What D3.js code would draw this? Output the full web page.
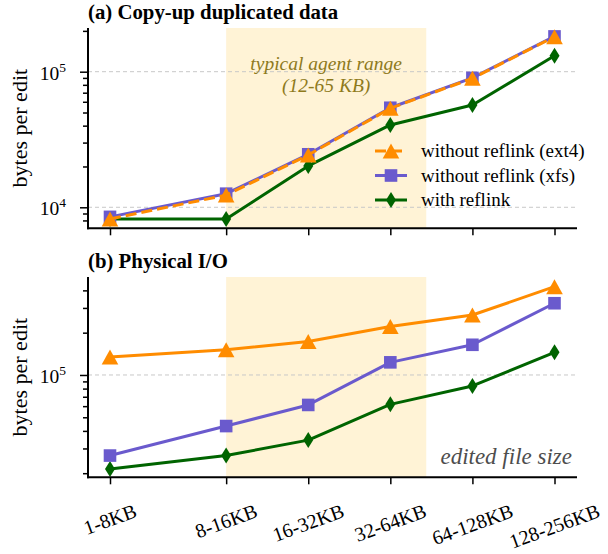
<!DOCTYPE html>
<html><head><meta charset="utf-8">
<script src="https://cdn.jsdelivr.net/npm/d3@7"></script>
<style>body{margin:0;background:#fff} svg{display:block} text{font-family:"Liberation Serif","Times New Roman",serif}</style>
</head><body><svg id="c" width="608" height="554"></svg>
<script>
const categories = ["1-8KB","8-16KB","16-32KB","32-64KB","64-128KB","128-256KB"];
const sizeMidKB = [4.5,12,24,48,96,192];
const typicalRangeKB = [12,65];
const seriesNames = ["without reflink (ext4)","without reflink (xfs)","with reflink"];
const copyExt4 = [8.2e3,1.23e4,2.43e4,5.37e4,8.93e4,1.81e5];
const copyXfs = [8.5e3,1.26e4,2.46e4,5.42e4,9.0e4,1.82e5];
const copyReflink = [8.2e3,8.2e3,2.02e4,4.05e4,5.68e4,1.31e5];
const ioExt4 = [1.34e5,1.51e5,1.73e5,2.21e5,2.67e5,4.25e5];
const ioXfs = [2.67e4,4.33e4,6.12e4,1.23e5,1.64e5,3.24e5];
const ioReflink = [2.14e4,2.67e4,3.44e4,6.18e4,8.35e4,1.45e5];
const copyYMajor = [1e4,1e5];
const copyYMinor = [8e3,9e3,2e4,3e4,4e4,5e4,6e4,7e4,8e4,9e4,2e5];
const ioYMajor = [1e5];
const ioYMinor = [2e4,3e4,4e4,5e4,6e4,7e4,8e4,9e4,2e5,3e5,4e5];

const colors = {ext4:"#ff8c00", xfs:"#6a5acd", reflink:"#006400"};
const svg = d3.select("#c");
const X0 = 88, X1 = 577;
const x = d3.scaleLog().base(2).domain([4.5,192]).range([110,554.5]);

function marker(g, type, cx, cy, color){
  if(type==="tri"){
    g.append("path").attr("d",`M${cx},${cy-7.5}L${cx+8.3},${cy+7.5}L${cx-8.3},${cy+7.5}Z`).attr("fill",color);
  } else if(type==="sq"){
    g.append("rect").attr("x",cx-6.3).attr("y",cy-6.3).attr("width",12.6).attr("height",12.6).attr("fill",color);
  } else {
    g.append("path").attr("d",`M${cx},${cy-8}L${cx+5},${cy}L${cx},${cy+8}L${cx-5},${cy}Z`).attr("fill",color);
  }
}

function panel(opt){
  const g = svg.append("g");
  const y = d3.scaleLog().domain(opt.domain).range([opt.bottom, opt.top]);
  g.append("rect").attr("x",x(typicalRangeKB[0])).attr("y",opt.top).attr("width",x(typicalRangeKB[1])-x(typicalRangeKB[0])).attr("height",opt.bottom-opt.top).attr("fill","#fff3d6");
  opt.major.forEach(v=>{
    g.append("line").attr("x1",X0).attr("x2",X1).attr("y1",y(v)).attr("y2",y(v)).attr("stroke","#c8c8c8").attr("stroke-width",1).attr("stroke-dasharray","4,3");
  });
  if(opt.annot){
    const cx = (x(typicalRangeKB[0])+x(typicalRangeKB[1]))/2;
    g.append("text").attr("x",cx).attr("y",opt.top+42).attr("text-anchor","middle").attr("font-style","italic").attr("font-size",19.5).attr("fill","#8e7a1c").text("typical agent range");
    g.append("text").attr("x",cx).attr("y",opt.top+64).attr("text-anchor","middle").attr("font-style","italic").attr("font-size",19.5).attr("fill","#8e7a1c").text("(12-65 KB)");
  }
  const line = d3.line().x((d,i)=>x(sizeMidKB[i])).y(d=>y(d));
  opt.series.forEach(s=>{
    g.append("path").attr("d",line(s.values)).attr("fill","none").attr("stroke",s.color).attr("stroke-width",3).attr("stroke-linejoin","round").attr("stroke-dasharray",s.dash||null);
    s.values.forEach((v,i)=>marker(g,s.marker,x(sizeMidKB[i]),y(v),s.color));
  });
  const yAxisMajor = d3.axisLeft(y).tickValues(opt.major).tickSize(8).tickFormat("");
  const yAxisMinor = d3.axisLeft(y).tickValues(opt.minor).tickSize(5).tickFormat("");
  const ya = g.append("g").attr("transform",`translate(${X0},0)`).call(yAxisMajor);
  const ym = g.append("g").attr("transform",`translate(${X0},0)`).call(yAxisMinor);
  [ya,ym].forEach(a=>{a.select(".domain").remove(); a.selectAll("line").attr("stroke","#000").attr("stroke-width",1.5);});
  opt.major.forEach(v=>{
    const e = Math.round(Math.log10(v));
    const t = g.append("text").attr("x",66).attr("y",y(v)+8).attr("text-anchor","end").attr("font-size",19.5);
    t.append("tspan").text("10");
    t.append("tspan").attr("font-size",13.5).attr("dy",-8).text(e);
  });
  const xa = g.append("g").attr("transform",`translate(0,${opt.bottom})`).call(d3.axisBottom(x).tickValues(sizeMidKB).tickSize(7).tickFormat(""));
  xa.select(".domain").remove();
  xa.selectAll("line").attr("stroke","#000").attr("stroke-width",1.5);
  g.append("line").attr("x1",X0).attr("x2",X0).attr("y1",opt.top).attr("y2",opt.bottom+1).attr("stroke","#000").attr("stroke-width",2);
  g.append("line").attr("x1",X0-1).attr("x2",X1).attr("y1",opt.bottom).attr("y2",opt.bottom).attr("stroke","#000").attr("stroke-width",2);
  g.append("text").attr("x",X0).attr("y",opt.top-9).attr("font-weight","bold").attr("font-size",20.8).text(opt.title);
  g.append("text").attr("transform",`translate(27,${(opt.top+opt.bottom)/2}) rotate(-90)`).attr("text-anchor","middle").attr("font-size",22).text("bytes per edit");
  return {g,y};
}

const topPanel = panel({title:"(a) Copy-up duplicated data", top:28, bottom:228.3, domain:[7.0e3,2.1e5], major:copyYMajor, minor:copyYMinor, annot:true,
  series:[
    {values:copyReflink, color:colors.reflink, marker:"dia"},
    {values:copyXfs, color:colors.xfs, marker:"sq"},
    {values:copyExt4, color:colors.ext4, marker:"tri", dash:"11,5"}
  ]});
const botPanel = panel({title:"(b) Physical I/O", top:277, bottom:477.3, domain:[1.87e4,4.98e5], major:ioYMajor, minor:ioYMinor, annot:false,
  series:[
    {values:ioReflink, color:colors.reflink, marker:"dia"},
    {values:ioXfs, color:colors.xfs, marker:"sq"},
    {values:ioExt4, color:colors.ext4, marker:"tri"}
  ]});

const leg = topPanel.g.append("g");
const legItems = [
  {name:seriesNames[0], color:colors.ext4, marker:"tri", dash:"11,5"},
  {name:seriesNames[1], color:colors.xfs, marker:"sq"},
  {name:seriesNames[2], color:colors.reflink, marker:"dia"}
];
legItems.forEach((d,i)=>{
  const cy = 151 + i*24.5;
  leg.append("line").attr("x1",375).attr("x2",407).attr("y1",cy).attr("y2",cy).attr("stroke",d.color).attr("stroke-width",3).attr("stroke-dasharray",d.dash||null);
  marker(leg,d.marker,391,cy,d.color);
  leg.append("text").attr("x",421).attr("y",cy+6).attr("font-size",19).text(d.name);
});

// rotated x tick labels, centred on tick, bounding box top-aligned
const ang = 20, rad = ang*Math.PI/180, fs = 20, labelTop = 500;
categories.forEach((c,i)=>{
  const t = botPanel.g.append("text").attr("text-anchor","middle").attr("dy","0.35em").attr("font-size",fs).text(c);
  const L = t.node().getComputedTextLength();
  const H = L*Math.sin(rad) + fs*1.05*Math.cos(rad);
  t.attr("transform",`translate(${x(sizeMidKB[i])},${labelTop + H/2}) rotate(${-ang})`);
});
botPanel.g.append("text").attr("x",572).attr("y",464).attr("text-anchor","end").attr("font-style","italic").attr("font-size",23).attr("fill","#4d4d4d").text("edited file size");
</script></body></html>
